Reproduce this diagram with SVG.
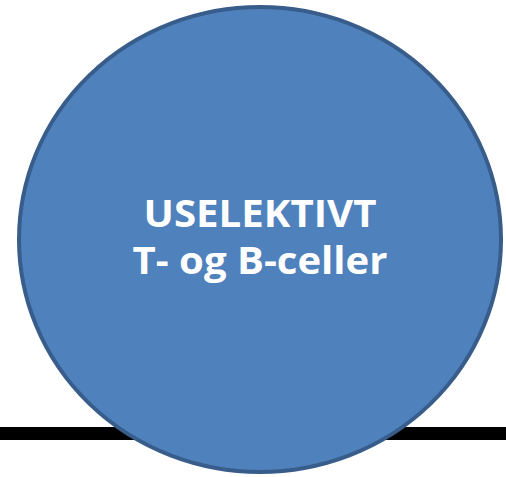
<svg xmlns="http://www.w3.org/2000/svg" width="506" height="477" viewBox="0 0 506 477">
<style>
.lbl{font-family:"Open Sans","Liberation Sans",sans-serif;font-weight:bold;font-size:37px;fill:#fff;text-anchor:middle}
</style>
<rect x="0" y="427" width="506" height="13" fill="#000"/>
<g id="node1">
<ellipse cx="260" cy="239.5" rx="241" ry="232.5" fill="#4F81BD" stroke="#385D8A" stroke-width="4"/>
<text class="lbl" x="260" y="227" textLength="233" lengthAdjust="spacingAndGlyphs">USELEKTIVT</text>
<text class="lbl" x="260" y="274" textLength="255" lengthAdjust="spacingAndGlyphs">T- og B-celler</text>
</g>
<g id="connectors"/>
</svg>
